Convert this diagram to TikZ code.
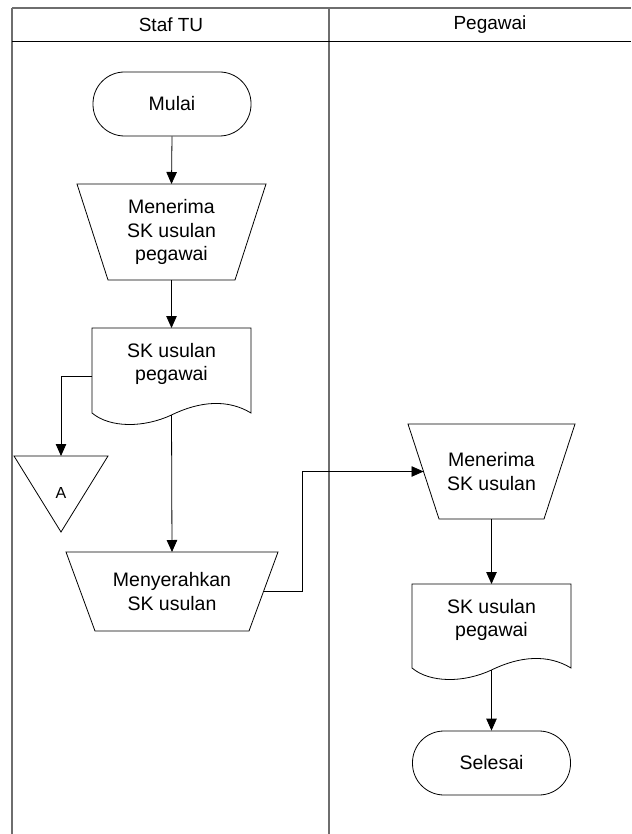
\documentclass[tikz,border=0pt]{standalone}
\usepackage{fontspec}
\setmainfont{Liberation Sans}
\usetikzlibrary{arrows.meta,calc}
\definecolor{framegray}{RGB}{110,110,110}
\newcommand\docshape[1]{%
  \draw[ln] (#1.north west) -- (#1.north east) -- (#1.south east)
    .. controls ($(#1.south east)+(-23,-14)$) and ($(#1.south east)+(-51,-12)$) .. ($(#1.south)+(0,2)$)
    .. controls ($(#1.south)+(-28,15)$) and ($(#1.south west)+(18,15)$) .. (#1.south west) -- cycle;}
\newcommand\trapshape[2]{%
  \draw[ln] (#1.north west) -- (#1.north east) -- ($(#1.south east)+(-#2,0)$) -- ($(#1.south west)+(#2,0)$) -- cycle;}
\begin{document}
\begin{tikzpicture}[x=1pt,y=-1pt,
  every node/.style={font=\fontsize{19.5}{23.5}\selectfont, align=center},
  ln/.style={line width=0.8pt, draw=black},
  arr/.style={ln, -{Triangle[length=12pt,width=10.5pt]}},
  term/.style={draw, line width=0.8pt, rectangle, rounded corners=31.5pt, minimum width=158pt, minimum height=64pt, inner sep=0pt},
  blank/.style={inner sep=0pt, outer sep=0pt},
  frame/.style={draw=framegray, line width=1.5pt},
  head/.style={font=\fontsize{19}{21}\selectfont}]
\useasboundingbox (0,0) rectangle (631,834);
% frame
\draw[frame] (12,8) -- (631,8);
\draw[frame] (12,8) -- (12,834);
\draw[frame] (329,8) -- (329,834);
\draw[line width=0.9pt] (12,41) -- (631,41);
\node[head] (h1) at (171,25) {Staf TU};
\node[head] (h2) at (490,25) {Pegawai};
% left lane
\node[term] (mulai) at (172,104) {Mulai};
\node[blank, minimum width=189pt, minimum height=96pt] (m1) at (171.5,232) {Menerima\\SK usulan\\pegawai};
\trapshape{m1}{31}
\node[blank, minimum width=159pt, minimum height=85pt] (d1) at (171.5,370.5) {};
\docshape{d1}
\node (d1t) at (171.5,364) {SK usulan\\pegawai};
\node[blank, minimum width=94pt, minimum height=76pt] (A) at (61,494) {};
\draw[ln] (A.north west) -- (A.north east) -- (A.south) -- cycle;
\node[font=\fontsize{16}{18}\selectfont] (At) at (61,493) {A};
\node[blank, minimum width=212pt, minimum height=79pt] (m3) at (172,591.5) {Menyerahkan\\SK usulan};
\trapshape{m3}{29}
% right lane
\node[blank, minimum width=167pt, minimum height=95pt] (m2) at (491.5,471.5) {Menerima\\SK usulan};
\trapshape{m2}{31}
\node[blank, minimum width=159pt, minimum height=84pt] (d2) at (491.5,626) {};
\docshape{d2}
\node (d2t) at (491.5,620) {SK usulan\\pegawai};
\node[term] (selesai) at (491.5,763) {Selesai};
% connectors
\coordinate (d1w) at ($(d1.south)+(0,2)$);
\coordinate (d2w) at ($(d2.south)+(0,2)$);
\coordinate (d1l) at ($(d1.west)+(0,5.5)$);
\coordinate (m3r) at ($(m3.east)+(-14.5,0)$);
\coordinate (m2l) at ($(m2.west)+(15.5,0)$);
\draw[arr] (mulai.south) -- (m1.north);
\draw[arr] (m1.south) -- (d1.north);
\draw[arr] (d1l) -| (A.north);
\draw[arr] (d1w) -- (m3.north);
\draw[arr] (m3r) -- ++(38.5,0) |- (m2l);
\draw[arr] (m2.south) -- (d2.north);
\draw[arr] (d2w) -- (selesai.north);
\end{tikzpicture}
\end{document}
